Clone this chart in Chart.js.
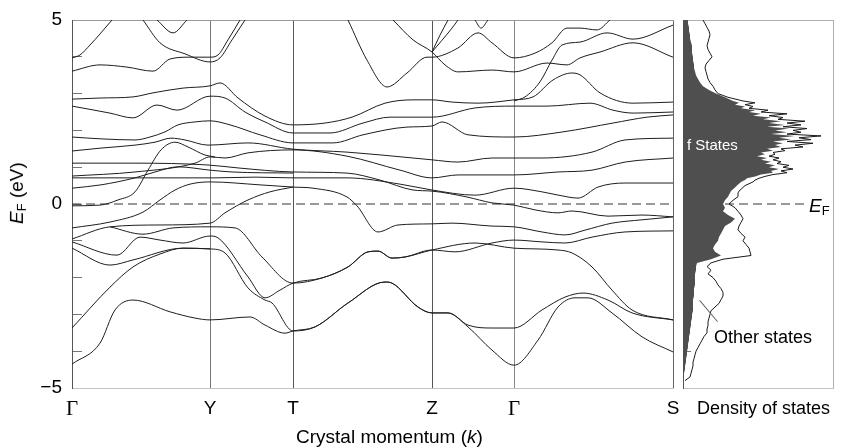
<!DOCTYPE html>
<html>
<head>
<meta charset="utf-8">
<script src="https://cdn.jsdelivr.net/npm/chart.js@4.4.1/dist/chart.umd.min.js"></script>
<style>
  body { margin: 0; background: #fff; width: 844px; height: 448px; position: relative; overflow: hidden;
         font-family: 'Liberation Sans', Arial, sans-serif; color: #000; }
  canvas { position: absolute; top: 0; }
  #bandChart { left: 0; }
  #dosChart { left: 676px; }
  .lbl { position: absolute; white-space: nowrap; line-height: 1; }
  .lbl sub { font-size: 0.68em; vertical-align: -0.25em; }
  #yTitle { left: -32px; top: 182px; width: 100px; text-align: center; font-size: 19px; transform: rotate(-90deg); }
  #xTitle { left: 296px; top: 427px; font-size: 19px; }
  #dosTitle { left: 697px; top: 399px; font-size: 18px; }
  #fLabel { left: 687px; top: 137px; font-size: 15px; color: #fff; }
  #otherLabel { left: 714px; top: 328px; font-size: 18px; }
  #efLabel { left: 809px; top: 196px; font-size: 19px; }
  #otherLead { position: absolute; left: 700px; top: 300px; width: 28px; height: 1px; background: #666;
               transform: rotate(50deg); transform-origin: 0 0; }
</style>
</head>
<body>
<canvas id="bandChart" width="844" height="448"></canvas>
<canvas id="dosChart" width="168" height="448"></canvas>
<div class="lbl" id="yTitle"><i>E</i><sub>F</sub> (eV)</div>
<div class="lbl" id="xTitle">Crystal momentum (<i>k</i>)</div>
<div class="lbl" id="dosTitle">Density of states</div>
<div class="lbl" id="fLabel">f States</div>
<div id="otherLead"></div>
<div class="lbl" id="otherLabel">Other states</div>
<div class="lbl" id="efLabel"><i>E</i><sub>F</sub></div>
<script>
// high-symmetry points along the k path
const kTicks = [0, 1.38, 2.21, 3.60, 4.42, 6.01];
const kLabels = ['Γ', 'Y', 'T', 'Z', 'Γ', 'S'];

// energy bands, [k, E(eV)]
const band1 = [[0,3.97],[0.08,4.05],[0.18,4.32],[0.28,4.62],[0.40,5.00]];
const band2 = [[0.71,5.00],[0.88,4.38],[1.13,4.08],[1.38,3.86],[1.48,3.97],[1.60,4.46],[1.73,5.00]];
const band3 = [[0,3.61],[0.28,3.78],[0.55,3.72],[0.81,3.61],[0.98,3.94],[1.18,3.99],[1.38,3.99],[1.46,4.05],[1.56,4.46],[1.68,5.00]];
const band4 = [[0.85,5.00],[1.01,4.65],[1.15,5.00]];
const band5 = [[2.76,5.00],[2.95,3.91],[3.15,3.18],[3.35,3.56],[3.55,3.99],[3.60,3.99],[3.86,4.24],[4.06,4.65],[4.20,4.38],[4.42,3.97],[4.63,4.10],[4.80,4.38],[4.95,4.78],[5.08,4.78],[5.25,4.73],[5.38,5.00]];
const band6 = [[3.21,5.00],[3.41,4.46],[3.60,4.13],[3.73,3.78],[3.86,3.59],[4.20,3.64],[4.42,3.59],[4.75,3.83],[4.95,3.78],[5.08,3.97],[5.28,4.13],[5.61,4.38],[6.01,3.99]];
const band7 = [[3.60,4.13],[3.68,4.59],[3.76,5.00]];
const band8 = [[3.60,4.13],[3.80,4.78],[3.86,5.00]];
const band9 = [[4.03,5.00],[4.09,4.78],[4.16,5.00]];
const band10 = [[4.42,2.80],[4.53,2.91],[4.68,3.32],[4.80,3.91],[4.90,4.32],[5.08,4.40],[5.35,4.65],[5.61,4.48],[6.01,4.86]];
const band11 = [[0,2.85],[0.28,2.88],[0.61,2.91],[0.81,3.02],[1.11,3.15],[1.38,3.21],[1.48,3.29],[1.66,2.88],[1.93,2.39],[2.21,2.15],[2.53,2.20],[2.80,2.36],[3.13,2.74],[3.41,2.83],[3.60,2.83],[3.80,2.77],[4.06,2.74],[4.42,2.83],[4.61,2.91],[4.81,3.37],[5.00,3.56],[5.08,3.51],[5.28,3.02],[5.61,2.74],[6.01,2.77]];
const band12 = [[0,2.66],[0.38,2.47],[0.61,2.34],[0.85,2.69],[1.05,2.55],[1.38,2.93],[1.53,2.88],[1.73,2.50],[1.93,2.23],[2.21,1.93],[2.58,1.93],[2.91,2.20],[3.18,2.36],[3.60,2.36],[4.03,2.61],[4.42,2.66],[4.75,2.66],[5.18,2.74],[5.41,2.55],[5.61,2.47],[6.01,2.50]];
const band13 = [[0,1.82],[0.29,1.77],[0.63,1.74],[0.78,1.82],[0.93,1.96],[1.06,2.15],[1.23,2.23],[1.38,2.26],[1.58,2.15],[1.88,1.88],[2.21,1.66],[2.61,1.66],[2.91,1.88],[3.35,2.09],[3.60,2.12],[3.70,2.23],[3.96,1.88],[4.42,1.82],[4.91,1.96],[5.41,2.20],[5.75,2.36],[6.01,2.42]];
const band14 = [[0,1.44],[0.29,1.52],[0.63,1.60],[0.83,1.68],[0.99,1.79],[1.13,1.74],[1.36,1.60],[1.76,1.66],[2.21,1.49],[2.75,1.41],[3.41,1.25],[3.60,1.20],[3.86,1.14],[4.20,1.25],[4.42,1.25],[4.70,1.25],[5.20,1.41],[5.53,1.74],[6.01,1.79]];
const band15 = [[0,1.11],[0.63,1.11],[1.36,1.06],[1.66,0.98],[2.21,0.87],[2.75,0.84],[3.08,0.65],[3.41,0.38],[3.60,0.35],[3.95,0.19],[4.20,0.03],[4.42,-0.03],[4.63,-0.16],[4.86,-0.24],[5.00,-0.19],[5.36,-0.33],[5.70,-0.30],[6.01,-0.35]];
const band16 = [[0,0.76],[0.63,0.87],[1.23,1.11],[1.38,1.28],[1.53,1.25],[1.76,1.39],[2.21,1.47],[2.75,1.30],[3.28,0.92],[3.60,0.71],[3.86,0.79],[4.42,0.79],[4.86,0.87],[5.20,0.92],[5.53,1.14],[6.01,1.25]];
const band17 = [[0,0.71],[1.43,0.71],[1.83,0.73],[2.21,0.71],[2.75,0.71],[3.28,0.54],[3.60,0.38],[4.03,0.24],[4.42,0.43],[4.70,0.33],[4.96,0.19],[5.06,0.16],[5.26,0.46],[5.53,0.57],[6.01,0.57]];
const band18 = [[0,0.43],[0.29,0.52],[0.63,0.71],[0.83,0.87],[1.06,1.01],[1.38,0.92],[1.60,0.87],[2.21,0.84]];
const band19 = [[0,-0.05],[0.28,-0.03],[0.46,0.11],[0.63,0.33],[0.76,0.92],[0.89,1.47],[1.03,1.68],[1.16,1.55],[1.33,1.33],[1.43,1.28]];
const band20 = [[0,-0.65],[0.38,-0.49],[0.71,-0.22],[0.88,0.11],[1.03,0.38],[1.18,0.54],[1.38,0.60],[1.88,0.52],[2.21,0.46],[2.41,0.43],[2.75,0.19],[2.85,-0.05],[3.06,-0.76],[3.26,-0.57],[3.60,-0.54],[3.80,-0.52],[4.20,-0.60],[4.42,-0.62],[4.70,-0.76],[4.93,-0.84],[5.13,-0.71],[5.40,-0.52],[5.70,-0.43],[6.01,-0.35]];
const band21 = [[0,-0.95],[0.38,-0.62],[0.88,-0.57],[1.38,-0.52],[1.53,-0.24],[1.76,0.11],[1.98,0.33],[2.21,0.46]];
const band22 = [[0,-1.03],[0.45,-1.39],[0.68,-0.90],[0.88,-0.98],[1.11,-1.06],[1.38,-0.87],[1.46,-0.92],[1.76,-1.98],[1.93,-2.55],[2.08,-2.34],[2.21,-2.15],[2.50,-2.01],[2.76,-1.71],[2.96,-1.30],[3.06,-1.28],[3.20,-1.47],[3.33,-1.44],[3.60,-1.25],[3.83,-1.30],[4.20,-1.06],[4.42,-0.98],[4.70,-1.03],[4.93,-1.06],[5.20,-0.90],[5.53,-0.76],[6.01,-0.73]];
const band23 = [[0,-1.20],[0.38,-1.66],[0.61,-1.52],[1.11,-1.20],[1.38,-1.22],[1.53,-1.33],[1.76,-2.28],[1.93,-2.61],[2.00,-2.69],[2.21,-3.45],[2.43,-3.34],[2.76,-2.69],[3.13,-2.12],[3.20,-2.15],[3.46,-2.80],[3.60,-2.96],[3.76,-2.96],[3.96,-3.29],[4.20,-3.37],[4.42,-3.37],[4.70,-2.88],[4.93,-2.53],[5.11,-2.42],[5.36,-2.61],[5.60,-2.96],[6.01,-3.15]];
const band24 = [[0,-3.37],[0.38,-2.26],[0.61,-1.71],[0.88,-1.36],[1.11,-1.20],[1.38,-1.22]];
const band25 = [[0.38,-0.62],[0.71,-0.82],[1.01,-0.65],[1.38,-0.62],[1.63,-0.65],[1.90,-1.44],[2.21,-2.15],[2.50,-2.01],[2.76,-1.71],[2.96,-1.30],[3.06,-1.28],[3.20,-1.47],[3.33,-1.44],[3.60,-1.25],[4.03,-1.06],[4.42,-1.20],[4.86,-1.25],[5.00,-1.33],[5.20,-1.71],[5.40,-2.34],[5.60,-2.88],[6.01,-3.15]];
const band26 = [[0,-4.35],[0.28,-3.78],[0.43,-2.88],[0.61,-2.61],[0.98,-2.93],[1.23,-3.10],[1.38,-3.15],[1.78,-3.07],[1.93,-3.29],[2.13,-3.51],[2.21,-3.45],[2.43,-3.34],[2.76,-2.69],[3.13,-2.12],[3.20,-2.15],[3.46,-2.80],[3.60,-2.96],[3.76,-2.96],[3.96,-3.34],[4.20,-3.97],[4.42,-4.38],[4.66,-3.70],[4.86,-2.80],[5.03,-2.55],[5.16,-2.55],[5.40,-2.96],[5.70,-3.61],[6.01,-4.02]];

const bands = [band1, band2, band3, band4, band5, band6, band7, band8, band9, band10, band11, band12, band13,
  band14, band15, band16, band17, band18, band19, band20, band21, band22, band23, band24, band25, band26];

// density of states, read from top (5 eV) to bottom
const dosEnergy = [5.0,4.9,4.8,4.7,4.6,4.5,4.4,4.3,4.2,4.1,4.0,3.9,3.8,3.7,3.6,3.5,3.4,3.3,3.2,3.1,3.0,2.9,
  2.80,2.75,2.70,2.65,2.60,2.55,2.50,2.45,2.40,2.35,2.30,2.25,2.20,2.15,2.10,2.05,2.00,1.95,1.90,1.85,
  1.80,1.75,1.70,1.65,1.60,1.55,1.50,1.45,1.40,1.35,1.30,1.25,1.20,1.15,1.10,1.05,1.00,0.95,0.90,0.85,
  0.80,0.75,0.70,0.65,0.60,0.55,0.50,0.45,0.40,0.35,0.30,
  0.2,0.1,0.0,-0.1,-0.2,-0.3,-0.4,-0.5,-0.6,-0.7,-0.8,-0.9,
  -1.0,-1.1,-1.2,-1.3,-1.4,-1.5,-1.6,-1.7,-1.8,-1.9,-2.0,-2.1,-2.2,-2.3,-2.4,-2.5,-2.6,-2.7,-2.8,-2.9,
  -3.0,-3.1,-3.2,-3.3,-3.4,-3.5,-3.6,-3.7,-3.8,-3.9,-4.0,-4.1,-4.2,-4.3,-4.4,-4.5,-4.6,-4.7,-4.8];
const fStates = [5,5,6,6,7,7,8,9,9,9,10,10,11,11,12,13,15,17,20,26,33,42,
  50,56,52,62,58,72,66,78,70,88,80,98,86,102,84,106,92,104,88,112,
  96,108,90,100,92,98,84,90,78,82,74,84,78,88,82,92,86,96,88,90,
  78,72,64,62,58,56,54,52,50,48,47,
  45,42,40,42,40,45,52,48,42,40,38,36,
  35,32,30,32,38,28,14,13,13,12,12,12,12,11,11,11,10,10,10,10,
  9,9,8,8,7,7,6,6,5,5,4,4,3,3,2,2,1,1,0];
const allStates = [20,22,24,26,27,26,25,24,25,27,29,26,23,22,23,24,25,27,30,32,35,45,
  60,72,62,70,66,85,78,104,86,100,95,122,104,118,100,124,110,118,104,138,
  116,128,104,130,112,120,98,102,90,92,86,96,90,98,94,106,100,110,98,104,
  90,82,76,72,70,66,62,60,58,56,55,
  55,50,46,52,55,58,60,58,56,55,58,62,
  60,63,66,67,68,40,28,24,28,25,30,33,35,38,40,40,38,36,32,28,
  27,26,25,25,24,24,21,19,17,15,13,12,11,10,10,9,8,7,2];

const fermiLevel = 0;

const font = "'Liberation Sans', Arial, sans-serif";
const gridColors = ['#555', '#777', '#555', '#555', '#888', '#666'];

const bandSets = bands.map(b => ({
  data: b.map(p => ({ x: p[0], y: p[1] })),
  borderColor: '#1e1e1e',
  borderWidth: 1,
  pointRadius: 0,
  fill: false,
  cubicInterpolationMode: 'monotone'
}));
bandSets.push({
  data: [{ x: kTicks[0], y: fermiLevel }, { x: kTicks[kTicks.length - 1], y: fermiLevel }],
  borderColor: '#333',
  borderWidth: 1,
  borderDash: [9, 5],
  pointRadius: 0,
  fill: false
});

new Chart(document.getElementById('bandChart'), {
  type: 'line',
  data: { datasets: bandSets },
  options: {
    responsive: false,
    animation: false,
    events: [],
    layout: { padding: { top: 20, right: 171, left: 0, bottom: 0 } },
    plugins: { legend: { display: false }, tooltip: { enabled: false } },
    scales: {
      x: {
        type: 'linear',
        min: 0,
        max: 6.01,
        afterBuildTicks: s => { s.ticks = kTicks.map(v => ({ value: v })); },
        afterFit: s => { s.height = 60; },
        ticks: {
          autoSkip: false,
          maxRotation: 0,
          padding: 9,
          color: '#000',
          callback: (v, i) => kLabels[i],
          font: ctx => ({
            family: ctx.tick && ctx.tick.label === 'Γ' ? "'Liberation Serif', serif" : font,
            size: ctx.tick && ctx.tick.label === 'Γ' ? 21 : 19
          })
        },
        grid: { color: ctx => gridColors[ctx.index] || '#666', lineWidth: 1, drawTicks: false },
        border: { color: '#c4c4c4' }
      },
      xTop: {
        type: 'linear',
        position: 'top',
        min: 0,
        max: 6.01,
        afterFit: s => { s.height = 0; },
        ticks: { display: false },
        grid: { drawOnChartArea: false, drawTicks: false },
        border: { color: '#9a9a9a' }
      },
      y: {
        type: 'linear',
        min: -5,
        max: 5,
        afterFit: s => { s.width = 72; s.paddingTop = 0; s.paddingBottom = 0; },
        ticks: {
          stepSize: 1,
          padding: 20,
          color: '#000',
          font: { family: font, size: 19 },
          callback: v => (v === 5 ? '5' : v === 0 ? '0' : v === -5 ? '−5' : '')
        },
        grid: { drawOnChartArea: false, tickLength: -10, color: '#777' },
        border: { color: '#555' }
      }
    }
  }
});

// density of states panel
const dosSets = [
  {
    data: dosEnergy.map((e, i) => ({ x: fStates[i], y: e })).reverse(),
    borderWidth: 0,
    borderColor: 'rgba(0,0,0,0)',
    backgroundColor: '#4f4f4f',
    fill: 'origin',
    pointRadius: 0,
    tension: 0
  },
  {
    data: dosEnergy.map((e, i) => ({ x: allStates[i], y: e })).reverse(),
    borderWidth: 1,
    borderColor: '#1a1a1a',
    fill: false,
    pointRadius: 0,
    tension: 0
  },
  {
    data: [{ x: 0, y: fermiLevel }, { x: 123, y: fermiLevel }],
    borderWidth: 1,
    borderColor: '#333',
    borderDash: [9, 5],
    fill: false,
    pointRadius: 0
  }
];

new Chart(document.getElementById('dosChart'), {
  type: 'line',
  data: { datasets: dosSets },
  options: {
    indexAxis: 'y',
    responsive: false,
    animation: false,
    events: [],
    layout: { padding: { top: 20, right: 11, left: 0, bottom: 0 } },
    plugins: { legend: { display: false }, tooltip: { enabled: false } },
    scales: {
      x: {
        type: 'linear',
        min: 0,
        max: 150,
        afterFit: s => { s.height = 60; },
        ticks: { display: false },
        grid: { drawOnChartArea: false, drawTicks: false },
        border: { color: '#c4c4c4' }
      },
      xTop: {
        type: 'linear',
        position: 'top',
        min: 0,
        max: 150,
        afterFit: s => { s.height = 0; },
        ticks: { display: false },
        grid: { drawOnChartArea: false, drawTicks: false },
        border: { color: '#b0b0b0' }
      },
      y: {
        type: 'linear',
        min: -5,
        max: 5,
        afterFit: s => { s.width = 7; s.paddingTop = 0; s.paddingBottom = 0; },
        ticks: { stepSize: 1, callback: () => '', padding: 0 },
        grid: { drawOnChartArea: false, tickLength: -8, color: '#777' },
        border: { color: '#555' }
      },
      yRight: {
        type: 'linear',
        position: 'right',
        min: -5,
        max: 5,
        afterFit: s => { s.width = 0; },
        ticks: { display: false },
        grid: { drawOnChartArea: false, drawTicks: false },
        border: { color: '#b0b0b0' }
      }
    }
  }
});
</script>
</body>
</html>
